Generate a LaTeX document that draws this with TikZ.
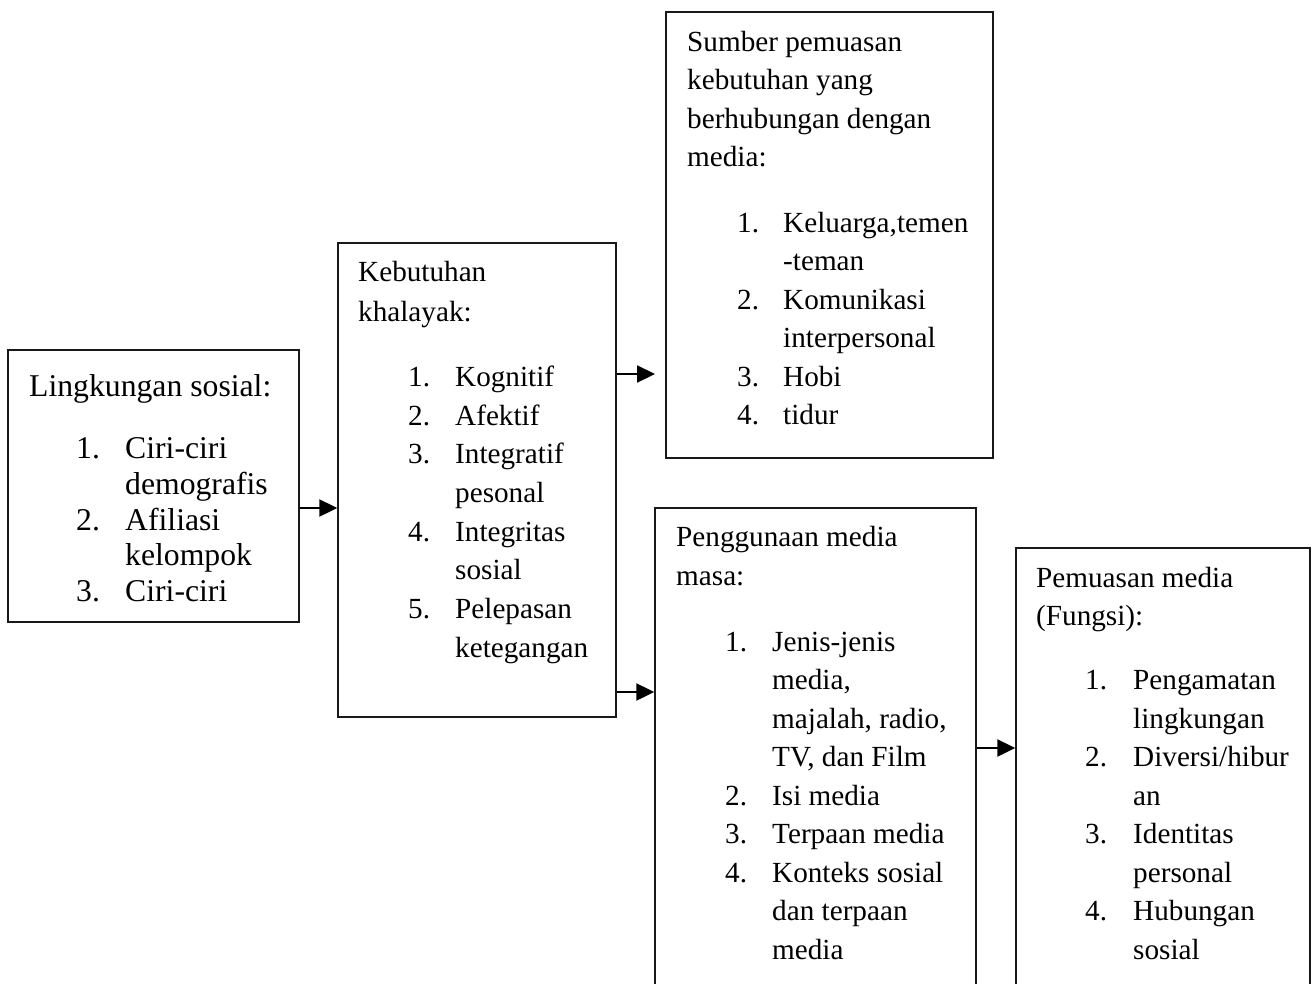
\documentclass[tikz,border=0pt]{standalone}
\usepackage{fontspec}
\setmainfont{Liberation Serif}
\usetikzlibrary{fit,arrows.meta}
\begin{document}
\begin{tikzpicture}[x=1pt,y=-1pt,
  box/.style={draw=black!90, line width=1.4pt, inner sep=0pt},
  arr/.style={-{Triangle[length=18pt,width=17pt]}, line width=2.2pt, draw=black},
  tx/.style={anchor=base west, inner sep=0pt, font=\fontsize{29.2}{35}\selectfont},
  txa/.style={tx, font=\fontsize{31.7}{38}\selectfont}]
\useasboundingbox (0,0) rectangle (1316,983);
\clip (0,0) rectangle (1316,983);
\fill[white] (0,0) rectangle (1316,983);

% boxes
\node[box, fit={(8,350) (299,622)}] (b1) {};
\node[box, fit={(338,243) (616,717)}] (b2) {};
\node[box, fit={(666,12) (993,458)}] (b3) {};
\node[box, fit={(655,508) (976,1010)}] (b4) {};
\node[box, fit={(1016,548) (1310,1010)}] (b5) {};

% box 1
\node[txa] (h1) at (29,396) {Lingkungan sosial:};
\node[txa] (n11) at (76,458) {1.};
\node[txa] (i11) at (125,458) {Ciri-ciri};
\node[txa] (i11b) at (125,494) {demografis};
\node[txa] (n12) at (76,530) {2.};
\node[txa] (i12) at (125,530) {Afiliasi};
\node[txa] (i12b) at (125,565) {kelompok};
\node[txa] (n13) at (76,601) {3.};
\node[txa] (i13) at (125,601) {Ciri-ciri};

% box 2
\node[tx] (h2a) at (358,281) {Kebutuhan};
\node[tx] (h2b) at (358,321) {khalayak:};
\node[tx] (n21) at (408,386) {1.};
\node[tx] (i21) at (455,386) {Kognitif};
\node[tx] (n22) at (408,425) {2.};
\node[tx] (i22) at (455,425) {Afektif};
\node[tx] (n23) at (408,463.5) {3.};
\node[tx] (i23) at (455,463.5) {Integratif};
\node[tx] (i23b) at (455,502) {pesonal};
\node[tx] (n24) at (408,541) {4.};
\node[tx] (i24) at (455,541) {Integritas};
\node[tx] (i24b) at (455,579.5) {sosial};
\node[tx] (n25) at (408,618) {5.};
\node[tx] (i25) at (455,618) {Pelepasan};
\node[tx] (i25b) at (455,657) {ketegangan};

% box 3
\node[tx] (h3a) at (687,51) {Sumber pemuasan};
\node[tx] (h3b) at (687,89.5) {kebutuhan yang};
\node[tx] (h3c) at (687,128) {berhubungan dengan};
\node[tx] (h3d) at (687,166.5) {media:};
\node[tx] (n31) at (737,232) {1.};
\node[tx] (i31) at (783,232) {Keluarga,temen};
\node[tx] (i31b) at (783,270.5) {-teman};
\node[tx] (n32) at (737,309) {2.};
\node[tx] (i32) at (783,309) {Komunikasi};
\node[tx] (i32b) at (783,347.5) {interpersonal};
\node[tx] (n33) at (737,386) {3.};
\node[tx] (i33) at (783,386) {Hobi};
\node[tx] (n34) at (737,424.5) {4.};
\node[tx] (i34) at (783,424.5) {tidur};

% box 4
\node[tx] (h4a) at (676,546) {Penggunaan media};
\node[tx] (h4b) at (676,585) {masa:};
\node[tx] (n41) at (725,651) {1.};
\node[tx] (i41) at (772,651) {Jenis-jenis};
\node[tx] (i41b) at (772,689.5) {media,};
\node[tx] (i41c) at (772,728) {majalah, radio,};
\node[tx] (i41d) at (772,766.5) {TV, dan Film};
\node[tx] (n42) at (725,805) {2.};
\node[tx] (i42) at (772,805) {Isi media};
\node[tx] (n43) at (725,843.5) {3.};
\node[tx] (i43) at (772,843.5) {Terpaan media};
\node[tx] (n44) at (725,882) {4.};
\node[tx] (i44) at (772,882) {Konteks sosial};
\node[tx] (i44b) at (772,920.5) {dan terpaan};
\node[tx] (i44c) at (772,959) {media};

% box 5
\node[tx] (h5a) at (1036,587) {Pemuasan media};
\node[tx] (h5b) at (1036,625) {(Fungsi):};
\node[tx] (n51) at (1085,689.5) {1.};
\node[tx] (i51) at (1133,689.5) {Pengamatan};
\node[tx] (i51b) at (1133,728) {lingkungan};
\node[tx] (n52) at (1085,766.5) {2.};
\node[tx] (i52) at (1133,766.5) {Diversi/hibur};
\node[tx] (i52b) at (1133,805) {an};
\node[tx] (n53) at (1085,843.5) {3.};
\node[tx] (i53) at (1133,843.5) {Identitas};
\node[tx] (i53b) at (1133,882) {personal};
\node[tx] (n54) at (1085,920.5) {4.};
\node[tx] (i54) at (1133,920.5) {Hubungan};
\node[tx] (i54b) at (1133,959) {sosial};

% connectors
\coordinate (y1) at (0,508);
\coordinate (t2) at (655,374);
\coordinate (y3) at (0,692);
\coordinate (y4) at (0,748);
\draw[arr] (b1.east |- y1) -- (b2.west |- y1);
\draw[arr] (b2.east |- t2) -- (t2);
\draw[arr] (b2.east |- y3) -- (b4.west |- y3);
\draw[arr] (b4.east |- y4) -- (b5.west |- y4);
\end{tikzpicture}
\end{document}
